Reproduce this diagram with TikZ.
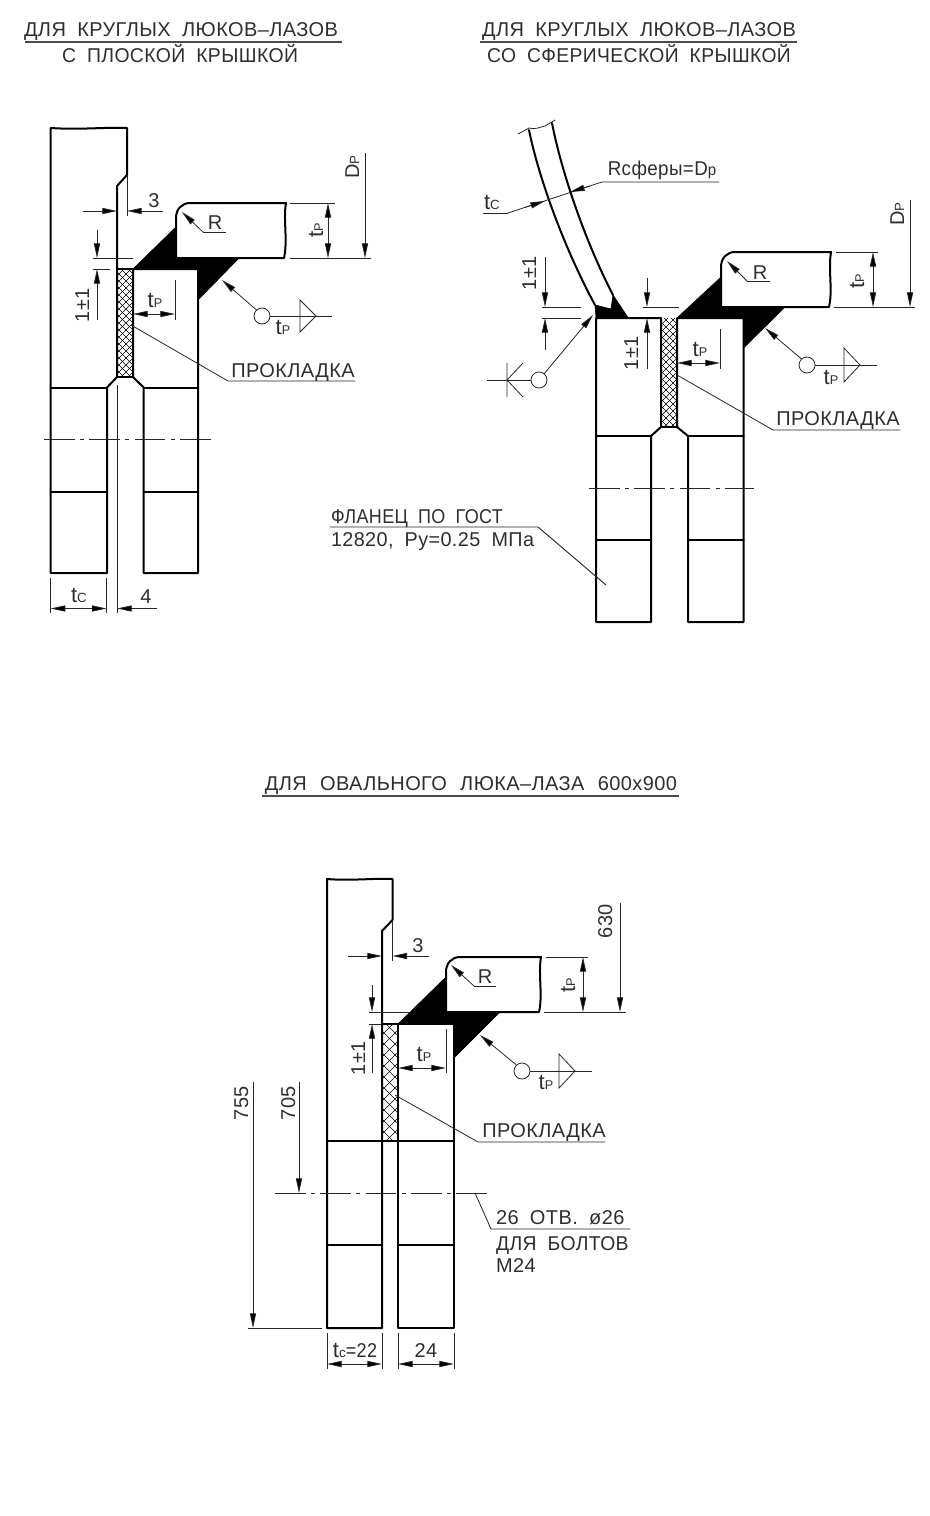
\documentclass[tikz,border=0pt]{standalone}
\usepackage{fontspec}
\setmainfont{Liberation Sans}[LetterSpace=2,WordSpace=1.9]
\usetikzlibrary{arrows.meta}
\newcommand\tPl{{\fontsize{16.5}{16}\selectfont t}{\fontsize{9.5}{9}\selectfont P}}
\newcommand\tCl{{\fontsize{16.5}{16}\selectfont t}{\fontsize{10}{10}\selectfont C}}
\newcommand\DPl{D{\fontsize{10}{10}\selectfont P}}
\newcommand\gaskethatch[5]{%
  \begin{scope}
    \clip (#1,#2) rectangle (#3,#4);
    \pgfmathsetmacro\gh{#4-#2}
    \pgfmathsetmacro\gw{#3-#1}
    \foreach \k in {0,1,...,60}{
      \pgfmathsetmacro\gt{\k*#5}
      \draw[hatchline] (#1+\gt-\gh,#2) -- (#1+\gt,#4);
      \draw[hatchline] (#1+\gt-\gh,#4) -- (#1+\gt,#2);
    }
  \end{scope}}
\tikzset{
  main/.style={line width=1.5pt,line join=round,line cap=round},
  fine/.style={line width=0.6pt,black!85},
  hatchline/.style={line width=0.5pt},
  center/.style={fine,dash pattern=on 23pt off 4pt on 3pt off 4pt},
  dimr/.style={fine,-{Triangle[length=11pt,width=4.6pt,fill=black]}},
  dimb/.style={fine,{Triangle[length=11pt,width=4.6pt,fill=black]}-{Triangle[length=11pt,width=4.6pt,fill=black]}},
  weld/.style={fill=black,draw=black,line width=0.5pt,line join=round},
  txt/.style={inner sep=0pt,outer sep=0pt,font=\fontsize{15}{15}\selectfont,text=black!82,text height=10.7pt,text depth=0pt},
  rot/.style={txt,rotate=90},
}
\begin{document}
\begin{tikzpicture}[x=0.75pt,y=-0.75pt]
\useasboundingbox (0,0) rectangle (930,1516);
% ------------ titles
\node[txt] (t1a) at (181,29.5) {ДЛЯ КРУГЛЫХ ЛЮКОВ–ЛАЗОВ};
\node[txt] (t1b) at (180,55.5) {\scalebox{0.97}[1]{С ПЛОСКОЙ КРЫШКОЙ}};
\draw[line width=0.9pt,black!70] (25,42) -- (342,42);
\node[txt] (t2a) at (639,29.5) {ДЛЯ КРУГЛЫХ ЛЮКОВ–ЛАЗОВ};
\node[txt] (t2b) at (639,55) {\scalebox{0.965}[1]{СО СФЕРИЧЕСКОЙ КРЫШКОЙ}};
\draw[line width=0.9pt,black!70] (480,42) -- (797,42);
\node[txt] (t3) at (471,783) {\spaceskip=10pt ДЛЯ ОВАЛЬНОГО ЛЮКА–ЛАЗА 600х900};
\draw[line width=0.9pt,black!70] (262,796) -- (679,796);

% ------------ VIEW 1
\draw[weld] (133,269) -- (175,228) -- (177,258) -- (239,258) -- (198,300) -- (198,269) -- cycle;
\gaskethatch{117}{269}{133}{377}{7}
\draw[main,fill=white] (176,258) -- (176,218) .. controls (176,209) and (182,203) .. (190,203) -- (286,203) .. controls (283,220) and (288,240) .. (284,258) -- cycle;
\draw[main] (50.7,128) .. controls (80,130) and (105,127) .. (127,128) -- (127,175) -- (117,186) -- (117,377) -- (107,387.5) -- (107,573) -- (50.7,573) -- cycle;
\draw[main] (50.7,387.5) -- (107,387.5);
\draw[main] (50.7,491.5) -- (107,491.5);
\draw[main] (133,269) -- (133,377) -- (143.7,387.5) -- (143.7,573) -- (198,573) -- (198,269) -- cycle;
\draw[main] (143.7,387.5) -- (198,387.5);
\draw[main] (143.7,491.5) -- (198,491.5);
\draw[main] (117,269) -- (133,269) (117,377) -- (133,377);
\draw[center] (44,439) -- (211,439);
\draw[fine] (117,385) -- (117,613);
% dims
\draw[fine] (127,175) -- (127,216);
\draw[dimr] (83,211) -- (117,211);
\draw[dimr] (163,211) -- (127,211);
\node[txt] (d3a) at (154,200) {3};
\draw[fine] (93,258) -- (133,258) (93,269) -- (110,269);
\draw[dimr] (97,230) -- (97,258);
\draw[dimr] (97,320) -- (97,269);
\node[rot] (d11a) at (82,305) {1±1};
\draw[dimb] (133,314) -- (175,314);
\draw[fine] (175,280) -- (175,320);
\node[txt] (tp1) at (155,300) {\tPl};
\draw[dimr] (203,232) -- (182,212);
\draw[fine] (203,232) -- (226,232);
\node[txt] (r1) at (215,222) {R};
\draw[fine] (290,203) -- (335,203) (290,258) -- (371,258);
\draw[dimb] (328,203) -- (328,258);
\node[rot] (tp1r) at (316,230) {\tPl};
\draw[dimr] (365,153) -- (365,258);
\node[rot] (dp1) at (352,167) {\DPl};
\draw[fine] (262,316) circle[radius=8];
\draw[dimr] (256.5,310) -- (222,280);
\draw[fine] (270,316) -- (332,316);
\draw[fine] (300,300) -- (316,316) -- (300,332) -- cycle;
\node[txt] (tp1w) at (283,327) {\tPl};
\draw[fine] (131,325) -- (228,381) -- (355,381);
\node[txt] (g1) at (293,370) {ПРОКЛАДКА};
\draw[fine] (50.7,578) -- (50.7,613) (106.5,578) -- (106.5,613);
\draw[dimb] (50.7,608.5) -- (106.5,608.5);
\node[txt] (tc1) at (79,595) {\tCl};
\draw[dimr] (157,608.5) -- (117,608.5);
\node[txt] (d4) at (146,596) {4};

% ------------ VIEW 2
\draw[main] (529,130) .. controls (537,170) and (560,240) .. (595,305);
\draw[main] (552,123) .. controls (560,165) and (582,235) .. (613,295);
\draw[fine] (518,134) -- (529,128) .. controls (535,130) and (540,127) .. (545,126) -- (555,120);
\draw[weld] (595,305) -- (611,309) -- (613,295) -- (628,317.5) -- (596,317.5) -- cycle;
\draw[weld] (677,318) -- (720,278) -- (722,307) -- (785,307) -- (743.5,348) -- (743.5,318) -- cycle;
\gaskethatch{661}{318}{677}{427}{7}
\draw[main,fill=white] (721,307) -- (721,267) .. controls (721,258) and (727,252) .. (735,252) -- (831,252) .. controls (828,270) and (833,290) .. (829,307) -- cycle;
\draw[main] (596,318) -- (596,622) -- (651,622) -- (651,436) -- (661,427) -- (661,318) -- cycle;
\draw[main] (596,436) -- (651,436) (596,540) -- (651,540);
\draw[main] (743.5,318) -- (743.5,622) -- (688,622) -- (688,436) -- (677,427) -- (677,318) -- cycle;
\draw[main] (688,436) -- (743.5,436) (688,540) -- (743.5,540);
\draw[main] (661,427) -- (677,427);
\draw[center] (589,488) -- (754,488);
% dims
\draw[fine] (508,213) -- (483,213);
\draw[fine] (508,213) -- (602,182) -- (719,182);
\draw[dimr] (525,207.4) -- (545,201);
\draw[dimr] (590,186) -- (570,192);
\node[txt] (rs) at (662,168) {\scalebox{0.94}[1]{Rсферы=D{\fontsize{12}{12}\selectfont p}}};
\node[txt] (tc2) at (492,202) {\tCl};
\draw[dimr] (545,257) -- (545,307);
\draw[dimr] (545,350) -- (545,318);
\draw[fine] (542,307) -- (581,307) (542,318) -- (581,318);
\node[rot] (d11b) at (529,273) {1±1};
\draw[fine] (643,307) -- (679,307);
\draw[dimr] (647,278) -- (647,307);
\draw[dimr] (647,369) -- (647,318);
\node[rot] (d11c) at (631,353) {1±1};
\draw[dimb] (677,363) -- (720,363);
\draw[fine] (720,329) -- (720,369);
\node[txt] (tp2) at (700,349) {\tPl};
\draw[dimr] (747,281) -- (727,261);
\draw[fine] (747,281) -- (770,281);
\node[txt] (r2) at (760,272) {R};
\draw[fine] (836,252) -- (878,252) (834,307) -- (915,307);
\draw[dimb] (873,252) -- (873,307);
\node[rot] (tp2r) at (857,281) {\tPl};
\draw[dimr] (910,200) -- (910,307);
\node[rot] (dp2) at (897,214) {\DPl};
\draw[fine] (807,365) circle[radius=8];
\draw[dimr] (801.5,359) -- (765,328);
\draw[fine] (815,365) -- (877,365);
\draw[fine] (844,348) -- (860,365) -- (844,382) -- cycle;
\node[txt] (tp2w) at (831,377) {\tPl};
\draw[fine] (677,375) -- (773,430) -- (900,430);
\node[txt] (g2) at (838,418) {ПРОКЛАДКА};
\draw[fine] (539,380) circle[radius=8];
\draw[dimr] (544,374) -- (593,315);
\draw[fine] (531,380) -- (487,380);
\draw[fine] (523,363) -- (507,380) -- (523,397) (507,363) -- (507,397);
\node[txt,anchor=west] (fl1) at (331,516.5) {\scalebox{0.9}[1]{ФЛАНЕЦ ПО ГОСТ}};
\node[txt,anchor=west] (fl2) at (331,539) {\scalebox{0.99}[1]{12820, Ру=0.25 МПа}};
\draw[fine,line width=0.7pt] (330,527) -- (538,527) -- (606,585);

% ------------ VIEW 3
\draw[weld] (398,1024) -- (445,978) -- (447,1012) -- (500,1012) -- (454,1058) -- (454,1024) -- cycle;
\gaskethatch{382}{1024}{398}{1141}{11}
\draw[main,fill=white] (446,1012) -- (446,972) .. controls (446,963) and (452,957) .. (460,957) -- (541,957) .. controls (538,975) and (543,995) .. (539,1012) -- cycle;
\draw[main] (327,879) .. controls (350,881) and (375,878) .. (392.5,879) -- (392.5,920) -- (382,931) -- (382,1328) -- (327,1328) -- cycle;
\draw[main] (398,1024) -- (454,1024) -- (454,1328) -- (398,1328) -- cycle;
\draw[main] (382,1024) -- (398,1024);
\draw[main] (327,1141) -- (454,1141);
\draw[main] (327,1245) -- (382,1245) (398,1245) -- (454,1245);
\draw[center] (275,1193) -- (489,1193);
% dims
\draw[fine] (392.5,920) -- (392.5,961);
\draw[dimr] (348,956) -- (382,956);
\draw[dimr] (429,956) -- (392.5,956);
\node[txt] (d3b) at (418,945) {3};
\draw[fine] (369,1012) -- (410,1012) (369,1024) -- (382,1024);
\draw[dimr] (372,985) -- (372,1012);
\draw[dimr] (372,1073) -- (372,1024);
\node[rot] (d11d) at (358,1058) {1±1};
\draw[dimb] (398,1068) -- (446,1068);
\draw[fine] (446,1029) -- (446,1073);
\node[txt] (tp3) at (424,1054) {\tPl};
\draw[dimr] (474,986) -- (451,965);
\draw[fine] (474,986) -- (496,986);
\node[txt] (r3) at (485,976) {R};
\draw[fine] (546,957) -- (588,957) (544,1012) -- (626,1012);
\draw[dimb] (583,957) -- (583,1012);
\node[rot] (tp3r) at (568,985) {\tPl};
\draw[dimr] (620,903) -- (620,1012);
\node[rot] (d630) at (605,921) {630};
\draw[fine] (522,1071) circle[radius=8];
\draw[dimr] (516.5,1065) -- (480,1035);
\draw[fine] (530,1071) -- (592,1071);
\draw[fine] (559,1054) -- (575,1071) -- (559,1088) -- cycle;
\node[txt] (tp3w) at (546,1082) {\tPl};
\draw[fine] (395,1095) -- (478,1142) -- (605,1142);
\node[txt] (g3) at (544,1130) {ПРОКЛАДКА};
\draw[dimr] (253,1082) -- (253,1328);
\draw[fine] (248,1328) -- (322,1328);
\node[rot] (d755) at (241,1103) {755};
\draw[dimr] (299,1082) -- (299,1193);
\node[rot] (d705) at (288,1103) {705};
\draw[fine] (475,1193) -- (491,1229) -- (630,1229);
\node[txt,anchor=west] (h1) at (496,1217) {26 ОТВ. ø26};
\node[txt,anchor=west] (h2) at (496,1243) {\scalebox{0.97}[1]{ДЛЯ БОЛТОВ}};
\node[txt,anchor=west] (h3) at (496,1265) {М24};
\draw[fine] (327,1333) -- (327,1369) (382,1333) -- (382,1369) (398,1333) -- (398,1369) (454,1333) -- (454,1369);
\draw[dimb] (327,1364) -- (382,1364);
\draw[dimb] (398,1364) -- (454,1364);
\node[txt] (tc3) at (355,1350) {{\fontsize{16.5}{16}\selectfont t}{\fontsize{10}{10}\selectfont c}\scalebox{0.9}[1]{=22}};
\node[txt] (d24) at (426,1350) {24};
\end{tikzpicture}
\end{document}
